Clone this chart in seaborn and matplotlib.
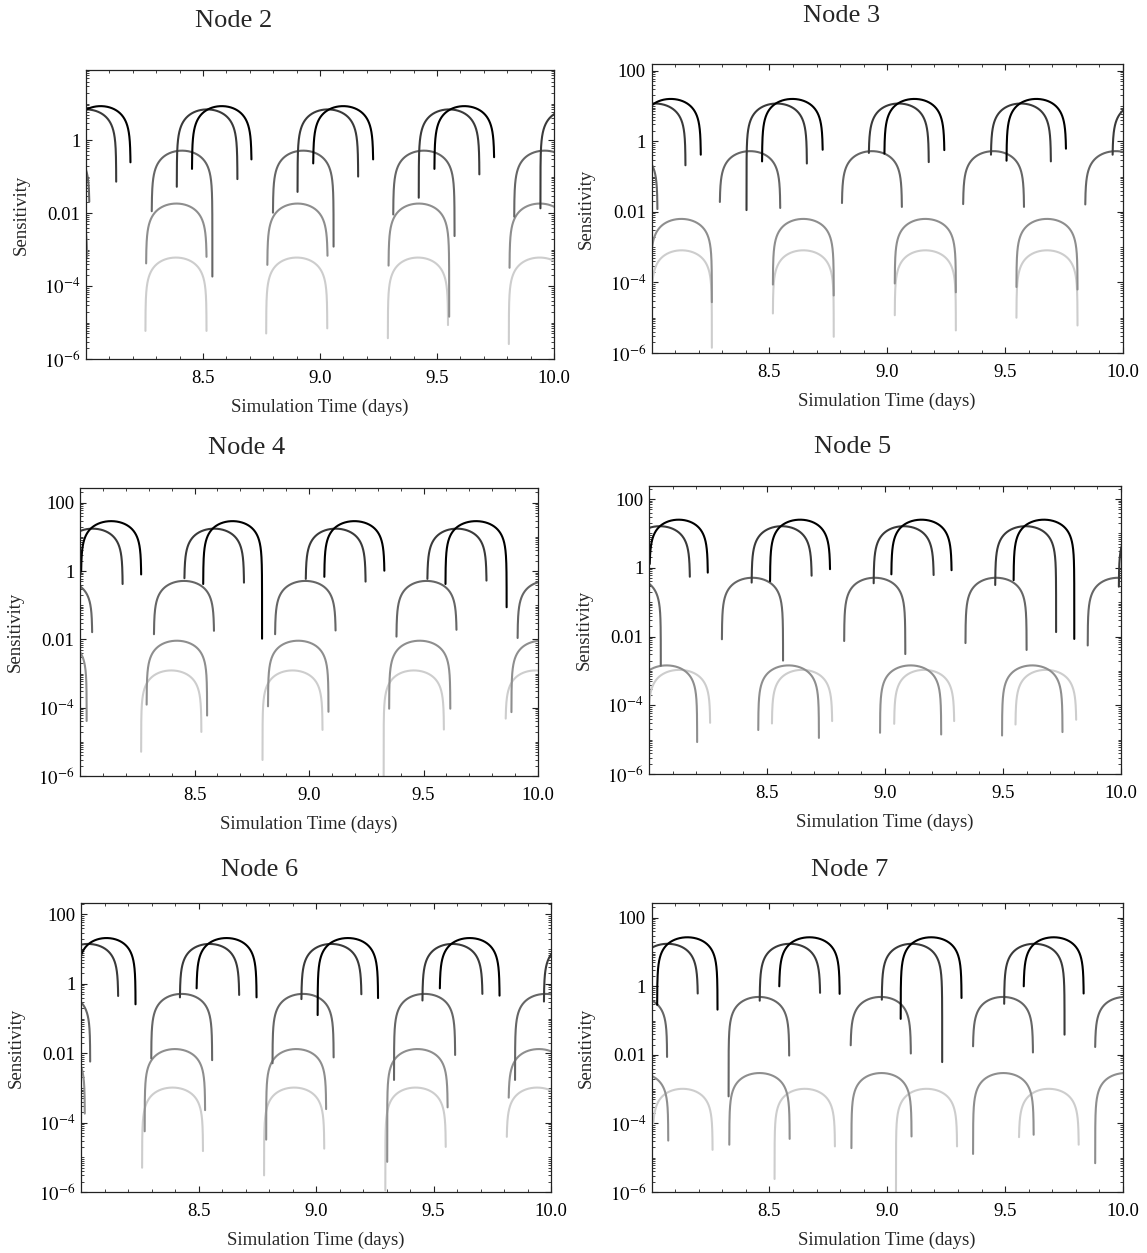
import numpy as np
import pandas as pd
import matplotlib
matplotlib.use("Agg")
import matplotlib.pyplot as plt
import seaborn as sns
from matplotlib.ticker import MultipleLocator, LogLocator, NullFormatter

sns.set_style("ticks")
plt.rcParams["font.family"] = ["Liberation Serif", "DejaVu Serif"]
plt.rcParams["mathtext.fontset"] = "stix"

# ---------------------------------------------------------------- data
SERIES = ["s1", "s2", "s3", "s4", "s5"]
X_TICKS = [8.5, 9.0, 9.5, 10.0]
X_TICK_LABELS = ["8.5", "9.0", "9.5", "10.0"]
Y_TICKS = [1e-6, 1e-4, 1e-2, 1, 100]
Y_TICK_LABELS = [r"$10^{-6}$", r"$10^{-4}$", "0.01", "1", "100"]

# Each arc: (start day, end day, log10 sensitivity at start, log10 sensitivity at end)
# Peaks: log10 of the maximum of each series (darkest -> lightest)

N2_PEAKS = [0.93, 0.84, -0.29, -1.74, -3.22]
N2_S1 = [(7.935, 8.19, -0.7, -0.61), (8.453, 8.707, -0.79, -0.53), (8.971, 9.227, -0.64, -0.53), (9.489, 9.744, -0.79, -0.47)]
N2_S2 = [(7.87, 8.129, -1.2, -1.14), (8.388, 8.647, -1.28, -1.07), (8.904, 9.163, -1.42, -1.0), (9.422, 9.681, -1.58, -0.94), (9.942, 10.2, -1.87, -0.9)]
N2_S3 = [(7.754, 8.014, -2.0, -1.69), (8.281, 8.54, -1.95, -3.74), (8.799, 9.058, -1.99, -2.92), (9.313, 9.575, -2.04, -2.63), (9.83, 10.09, -2.1, -2.5)]
N2_S4 = [(7.745, 8.005, -3.4, -3.2), (8.257, 8.515, -3.38, -3.2), (8.775, 9.032, -3.42, -3.17), (9.293, 9.552, -3.44, -4.84), (9.81, 10.07, -3.5, -3.2)]
N2_S5 = [(8.254, 8.515, -5.23, -5.23), (8.77, 9.031, -5.3, -5.16), (9.29, 9.547, -5.43, -5.07), (9.807, 10.07, -5.59, -5.1)]

N3_PEAKS = [1.2, 1.07, -0.28, -2.2, -3.09]
N3_S1 = [(7.954, 8.209, -0.5, -0.38), (8.469, 8.726, -0.57, -0.24), (8.988, 9.242, -0.35, -0.25), (9.506, 9.758, -0.55, -0.21)]
N3_S2 = [(7.885, 8.144, -0.5, -0.68), (8.403, 8.659, -1.95, -0.63), (8.922, 9.176, -0.33, -0.59), (9.44, 9.694, -0.38, -0.57), (9.956, 10.21, -0.38, -0.5)]
N3_S3 = [(7.765, 8.025, -1.8, -1.92), (8.29, 8.546, -1.72, -1.89), (8.808, 9.062, -1.75, -1.86), (9.322, 9.58, -1.78, -1.86), (9.84, 10.1, -1.79, -1.8)]
N3_S4 = [(7.997, 8.256, -4.0, -4.56), (8.515, 8.773, -4.06, -4.37), (9.032, 9.291, -4.03, -4.28), (9.548, 9.807, -4.13, -4.2)]
N3_S5 = [(8.0, 8.256, -4.86, -5.85), (8.515, 8.773, -4.88, -5.54), (9.032, 9.291, -4.93, -5.36), (9.548, 9.807, -5.0, -5.22)]

N4_PEAKS = [1.46, 1.24, -0.29, -2.04, -2.91]
N4_S1 = [(8.005, 8.267, -0.02, -0.1), (8.538, 8.795, -0.38, -1.98), (9.067, 9.329, -0.17, 0.01), (9.596, 9.863, -0.38, -1.06)]
N4_S2 = [(7.924, 8.186, -0.3, -0.38), (8.456, 8.716, -0.21, -0.34), (8.986, 9.247, -0.23, -0.31), (9.517, 9.775, -0.23, -0.28)]
N4_S3 = [(7.791, 8.053, -1.8, -1.79), (8.323, 8.585, -1.85, -1.75), (8.852, 9.116, -1.85, -1.74), (9.382, 9.644, -1.92, -1.72), (9.911, 10.173, -1.96, -1.8)]
N4_S4 = [(7.765, 8.029, -3.9, -4.39), (8.291, 8.555, -3.91, -4.23), (8.821, 9.085, -3.96, -4.12), (9.35, 9.617, -4.03, -4.03), (9.884, 10.148, -4.13, -4.0)]
N4_S5 = [(8.267, 8.53, -5.29, -4.71), (8.797, 9.059, -5.53, -4.65), (9.326, 9.589, -6.3, -4.64), (9.859, 10.12, -4.32, -4.5)]

N5_PEAKS = [1.4, 1.21, -0.29, -2.84, -2.97]
N5_S1 = [(8.003, 8.249, 0.11, -0.14), (8.513, 8.767, -0.39, -0.04), (9.027, 9.282, -0.19, -0.07), (9.545, 9.802, -0.36, -2.07)]
N5_S2 = [(7.918, 8.173, -0.3, -0.26), (8.435, 8.689, -0.43, -0.23), (8.952, 9.206, -0.45, -0.21), (9.467, 9.725, -0.5, -1.87), (9.991, 10.246, -0.55, -0.3)]
N5_S3 = [(7.791, 8.05, -2.1, -2.85), (8.309, 8.568, -2.08, -2.7), (8.827, 9.086, -2.13, -2.51), (9.341, 9.6, -2.19, -2.39), (9.859, 10.118, -2.26, -2.3)]
N5_S4 = [(7.945, 8.204, -4.8, -5.07), (8.463, 8.72, -4.72, -4.95), (8.979, 9.238, -4.8, -4.85), (9.496, 9.752, -4.88, -4.78)]
N5_S5 = [(7.998, 8.259, -4.5, -4.51), (8.521, 8.776, -4.53, -4.46), (9.039, 9.293, -4.54, -4.46), (9.553, 9.81, -4.56, -4.42)]

N6_PEAKS = [1.32, 1.15, -0.29, -1.88, -2.99]
N6_S1 = [(7.985, 8.232, -0.6, -0.59), (8.492, 8.747, -0.13, -0.39), (9.007, 9.264, -0.9, -0.41), (9.527, 9.781, -0.13, -0.34)]
N6_S2 = [(7.902, 8.158, -0.4, -0.35), (8.421, 8.673, -0.39, -0.32), (8.938, 9.193, -0.44, -0.3), (9.453, 9.708, -0.48, -0.29), (9.97, 10.225, -0.51, -0.3)]
N6_S3 = [(7.78, 8.039, -2.2, -2.24), (8.299, 8.558, -2.15, -2.2), (8.815, 9.075, -2.29, -2.12), (9.332, 9.592, -2.77, -2.05), (9.847, 10.107, -2.77, -2.1)]
N6_S4 = [(7.758, 8.016, -4.0, -3.74), (8.271, 8.528, -4.25, -3.64), (8.788, 9.043, -4.49, -3.61), (9.303, 9.56, -5.13, -3.56), (9.82, 10.077, -3.28, -3.6)]
N6_S5 = [(8.26, 8.519, -5.3, -4.82), (8.779, 9.035, -5.52, -4.75), (9.295, 9.552, -5.95, -4.7), (9.812, 10.07, -4.41, -4.7)]

N7_PEAKS = [1.43, 1.24, -0.31, -2.53, -2.99]
N7_S1 = [(8.024, 8.28, -0.54, -0.68), (8.542, 8.798, 0.0, -0.22), (9.057, 9.315, -0.95, -0.34), (9.579, 9.833, 0.0, -0.21)]
N7_S2 = [(7.94, 8.196, -0.4, -0.21), (8.459, 8.715, -0.42, -0.19), (8.977, 9.233, -0.39, -2.21), (9.496, 9.752, -0.51, -1.41)]
N7_S3 = [(7.81, 8.066, -1.8, -2.06), (8.327, 8.584, -3.21, -2.02), (8.845, 9.1, -1.72, -1.96), (9.364, 9.618, -1.75, -1.93), (9.882, 10.138, -1.77, -1.9)]
N7_S4 = [(7.815, 8.071, -4.5, -4.5), (8.33, 8.586, -4.62, -4.45), (8.848, 9.103, -4.72, -4.38), (9.364, 9.621, -4.89, -4.33), (9.882, 10.14, -5.16, -4.4)]
N7_S5 = [(8.008, 8.259, -3.99, -4.77), (8.522, 8.778, -5.62, -4.67), (9.037, 9.296, -6.3, -4.67), (9.559, 9.812, -4.4, -4.62)]

# log10 of the upper y limit of each panel
Y_TOPS = [1.92, 2.19, 2.43, 2.38, 2.33, 2.43]
TITLES = ["Node 2", "Node 3", "Node 4", "Node 5", "Node 6", "Node 7"]
PANEL_PEAKS = [N2_PEAKS, N3_PEAKS, N4_PEAKS, N5_PEAKS, N6_PEAKS, N7_PEAKS]
PANEL_ARCS = [
    [N2_S1, N2_S2, N2_S3, N2_S4, N2_S5],
    [N3_S1, N3_S2, N3_S3, N3_S4, N3_S5],
    [N4_S1, N4_S2, N4_S3, N4_S4, N4_S5],
    [N5_S1, N5_S2, N5_S3, N5_S4, N5_S5],
    [N6_S1, N6_S2, N6_S3, N6_S4, N6_S5],
    [N7_S1, N7_S2, N7_S3, N7_S4, N7_S5],
]

# ---------------------------------------------------------------- style / layout
SHADES = {"s1": "#000000", "s2": "#3a3a3a", "s3": "#666666", "s4": "#8e8e8e", "s5": "#cdcdcd"}
W, H = 1147, 1253
# frame boxes in pixels: left, right, top, bottom
BOXES = [
    (86, 554, 70, 359),
    (651.5, 1123, 64, 353),
    (80, 538, 488, 776),
    (649, 1121, 486, 774),
    (81, 551, 903, 1192),
    (651.5, 1123, 903, 1192),
]
TITLE_POS = [(234, 21), (842, 16), (247, 448), (853, 447), (260, 870), (850, 870)]
K = 0.7  # curvature of the arc outline on the log axis


def arc_points(x0, x1, l0, l1, lpeak, n=300):
    s0 = min(10 ** ((l0 - lpeak) / K), 0.999999)
    s1 = min(10 ** ((l1 - lpeak) / K), 0.999999)
    u0 = np.arcsin(s0) / np.pi
    u1 = 1.0 - np.arcsin(s1) / np.pi
    w = (x1 - x0) / (u1 - u0)
    a = x0 - u0 * w
    t = np.linspace(0, 1, n)
    u = u0 + (u1 - u0) * (1 - np.cos(np.pi * t)) / 2
    return a + u * w, 10 ** lpeak * np.sin(np.pi * u) ** K


fig = plt.figure(figsize=(W / 100, H / 100), dpi=100)
ink = "#222222"

for p in range(6):
    L, R, T, B = BOXES[p]
    ax = fig.add_axes([L / W, 1 - B / H, (R - L) / W, (B - T) / H])
    rows = []
    uid = 0
    for si, sname in enumerate(SERIES):
        for (x0, x1, l0, l1) in PANEL_ARCS[p][si]:
            xs, ys = arc_points(x0, x1, l0, l1, PANEL_PEAKS[p][si])
            rows.append(pd.DataFrame({"day": xs, "sens": ys, "series": sname, "arc": uid}))
            uid += 1
    df = pd.concat(rows, ignore_index=True)
    ax.set_yscale("log")
    sns.lineplot(data=df, x="day", y="sens", hue="series", units="arc", estimator=None,
                 sort=False, palette=SHADES, hue_order=SERIES[::-1], legend=False,
                 linewidth=1.5, ax=ax)
    ax.set_xlim(8.0, 10.0)
    ax.set_xticks(X_TICKS, X_TICK_LABELS)
    ax.xaxis.set_minor_locator(MultipleLocator(0.1))
    ax.set_yticks(Y_TICKS, Y_TICK_LABELS)
    ax.yaxis.set_minor_locator(LogLocator(base=10, subs=np.arange(1, 10), numticks=30))
    ax.yaxis.set_minor_formatter(NullFormatter())
    ax.set_ylim(1e-6, 10 ** Y_TOPS[p])
    ax.tick_params(which="both", direction="in", top=True, right=True, color=ink,
                   labelsize=13.5, labelcolor="black")
    ax.tick_params(which="major", length=4.5, width=0.8)
    ax.tick_params(which="minor", length=2.2, width=0.6)
    ax.tick_params(axis="x", which="major", pad=8)
    ax.tick_params(axis="y", which="major", pad=4)
    for sp in ax.spines.values():
        sp.set_color(ink)
        sp.set_linewidth(0.9)
    ax.set_xlabel("Simulation Time (days)", fontsize=13.5)
    ax.set_ylabel("Sensitivity", fontsize=13.5)
    ax.xaxis.label.set_va("center")
    ax.yaxis.label.set_va("center")
    ax.xaxis.set_label_coords(0.5, -48 / (B - T))
    ax.yaxis.set_label_coords(-65 / (R - L), 0.5)
    tx, ty = TITLE_POS[p]
    fig.text(tx / W, 1 - ty / H, TITLES[p], ha="center", va="center", fontsize=19)

fig.savefig("out.png", dpi=100, facecolor="white")
